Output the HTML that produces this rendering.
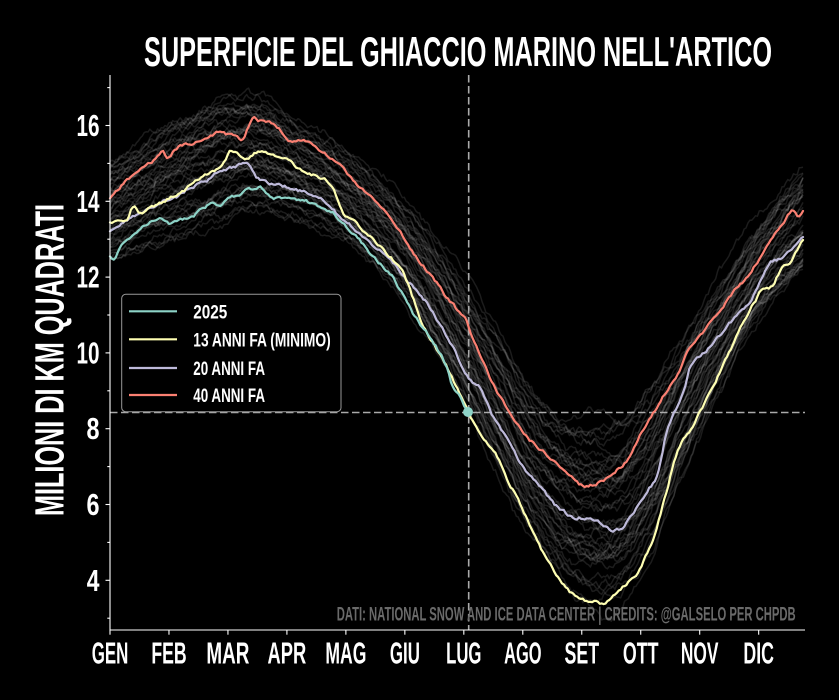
<!DOCTYPE html>
<html><head><meta charset="utf-8">
<style>
html,body{margin:0;padding:0;background:#000;width:839px;height:700px;overflow:hidden}
svg{display:block}
text{font-family:"Liberation Sans",sans-serif;font-weight:bold;fill:#fff}
</style></head><body>
<svg id="s" width="839" height="700" viewBox="0 0 839 700" xmlns="http://www.w3.org/2000/svg">
<rect width="839" height="700" fill="#000"/>
<g id="gray" fill="none" stroke="#fff" stroke-opacity="0.11" stroke-width="1.5" stroke-linejoin="round"></g>
<line x1="468.7" y1="75" x2="468.7" y2="630" stroke="#aaa" stroke-width="1.6" stroke-dasharray="7.5,3.5"/>
<line x1="110" y1="412.5" x2="805" y2="412.5" stroke="#aaa" stroke-width="1.6" stroke-dasharray="7.5,3.5"/>
<g id="main" fill="none" stroke-width="2.2" stroke-linejoin="round" stroke-linecap="round"></g>
<circle cx="468" cy="412" r="5" fill="#8dd3c7"/>

<line x1="110" y1="75" x2="110" y2="630.5" stroke="#fff" stroke-width="1.1"/>
<line x1="109.5" y1="630" x2="805" y2="630" stroke="#fff" stroke-width="1.1"/>
<g id="ticks" stroke="#fff" stroke-width="1.1"></g>
<g id="labels"></g>

<text x="144" y="66" font-size="42" textLength="628" lengthAdjust="spacingAndGlyphs">SUPERFICIE DEL GHIACCIO MARINO NELL'ARTICO</text>
<text transform="translate(63.3,360) rotate(-90)" x="0" y="0" text-anchor="middle" font-size="41" textLength="312" lengthAdjust="spacingAndGlyphs">MILIONI DI KM QUADRATI</text>

<text x="336.7" y="620.7" font-size="19.5" style="fill:#6a6a6a" textLength="459" lengthAdjust="spacingAndGlyphs">DATI: NATIONAL SNOW AND ICE DATA CENTER | CREDITS: @GALSELO PER CHPDB</text>

<rect x="121.7" y="294.3" width="219.3" height="117.4" rx="4" fill="#000" fill-opacity="0.85" stroke="#999" stroke-width="1"/>
<line x1="129" y1="311.3" x2="177" y2="311.3" stroke="#8dd3c7" stroke-width="2.2"/>
<line x1="129" y1="339.3" x2="177" y2="339.3" stroke="#ffffb3" stroke-width="2.2"/>
<line x1="129" y1="368" x2="177" y2="368" stroke="#bebada" stroke-width="2.2"/>
<line x1="129" y1="395" x2="177" y2="395" stroke="#fb8072" stroke-width="2.2"/>
<text x="193.3" y="318.3" font-size="19.3" textLength="34" lengthAdjust="spacingAndGlyphs">2025</text>
<text x="193.3" y="346.3" font-size="19.3" textLength="137.4" lengthAdjust="spacingAndGlyphs">13 ANNI FA (MINIMO)</text>
<text x="193.3" y="375" font-size="19.3" textLength="71.7" lengthAdjust="spacingAndGlyphs">20 ANNI FA</text>
<text x="193.3" y="402" font-size="19.3" textLength="71.7" lengthAdjust="spacingAndGlyphs">40 ANNI FA</text>
</svg>
<script>
(function(){
const NS="http://www.w3.org/2000/svg";
function R(seed){let s=seed>>>0;return function(){s=(Math.imul(s,1664525)+1013904223)>>>0;return s/4294967296;};}
function interp(P,x){
  const n=P.length;
  if(x<=P[0][0])return P[0][1];
  if(x>=P[n-1][0])return P[n-1][1];
  let i=0; while(i<n-2 && P[i+1][0]<x) i++;
  const p1=P[i],p2=P[i+1],p0=P[Math.max(0,i-1)],p3=P[Math.min(n-1,i+2)];
  const h=p2[0]-p1[0];
  const t=(x-p1[0])/h, t2=t*t, t3=t2*t;
  const m1=(p2[1]-p0[1])/(p2[0]-p0[0])*h;
  const m2=(p3[1]-p1[1])/(p3[0]-p1[0])*h;
  return (2*t3-3*t2+1)*p1[1]+(t3-2*t2+t)*m1+(-2*t3+3*t2)*p2[1]+(t3-t2)*m2;
}
function mk(tag,attrs,parent){const e=document.createElementNS(NS,tag);for(const k in attrs)e.setAttribute(k,attrs[k]);parent.appendChild(e);return e;}

const SAL=[[110,199],[118,190],[125,182],[135,174],[143,167],[155,160],[163,152],[167,157],[175,150],[183,145],[193,143],[203,140],[212,136],[220,132],[230,135],[237,137],[243,140],[248,128],[253,119],[260,121],[273,123],[280,130],[287,140],[298,140],[310,143],[320,150],[333,160],[347,173],[360,187],[375,201],[390,217],[402,235],[413,253],[425,268],[437,283],[447,298],[455,307],[462,316],[467,322],[470,333],[480,355],[490,377],[500,397],[510,413],[520,427],[527,437],[540,449],[550,457],[560,467],[572,477],[583,486],[592,485],[600,482],[610,476],[617,470],[627,460],[635,445],[643,430],[652,415],[660,402],[670,385],[680,370],[690,347],[705,330],[720,310],[733,293],[747,277],[760,258],[773,237],[783,223],[793,210],[798,215],[803,211]];
const YEL=[[110,223],[120,222],[127,220],[133,207],[140,213],[150,208],[160,203],[170,198],[180,193],[190,186],[200,178],[210,172],[220,168],[226,160],[230,152],[240,155],[247,158],[257,152],[268,154],[280,157],[290,162],[297,167],[305,171],[313,175],[327,180],[333,188],[337,197],[343,213],[352,220],[360,227],[370,237],[380,247],[390,257],[400,267],[407,282],[413,298],[420,318],[427,333],[437,350],[447,367],[458,390],[468,412],[475,425],[480,433],[487,443],[493,450],[500,462],[507,478],[513,490],[520,503],[530,525],[540,547],[550,564],[560,580],[570,592],[577,597],[585,600],[595,602],[603,604],[610,600],[620,590],[630,580],[637,573],[645,558],[653,540],[660,515],[667,490],[672,470],[677,453],[683,440],[690,430],[700,412],[707,398],[717,378],[727,357],[738,333],[750,310],[757,298],[763,288],[768,288],[773,285],[778,275],[783,267],[790,262],[793,257],[798,248],[803,240]];
const LAV=[[110,232],[118,226],[127,220],[135,216],[143,213],[152,207],[160,203],[168,200],[177,197],[185,191],[193,187],[200,183],[210,179],[217,173],[223,172],[233,167],[240,165],[247,163],[253,170],[257,177],[263,180],[270,183],[278,185],[287,187],[297,190],[307,193],[317,198],[327,203],[340,217],[350,225],[360,233],[373,245],[387,257],[397,268],[407,280],[417,292],[427,303],[437,320],[447,337],[458,357],[470,380],[480,387],[487,403],[493,417],[503,433],[513,450],[520,463],[527,473],[540,486],[553,503],[563,511],[573,517],[583,518],[593,520],[600,523],[610,530],[617,530],[623,527],[630,518],[640,503],[648,490],[657,477],[662,455],[667,430],[672,418],[677,407],[684,390],[690,367],[698,357],[707,350],[718,337],[730,323],[740,313],[750,303],[760,282],[770,263],[777,260],[783,257],[793,247],[803,237]];
const TEA=[[110,257],[115,258],[120,247],[125,242],[130,237],[137,232],[143,227],[150,222],[160,217],[165,220],[170,223],[180,220],[187,219],[193,217],[200,210],[207,206],[213,203],[220,206],[227,200],[233,197],[240,195],[247,190],[255,188],[260,187],[267,193],[273,197],[283,199],[293,200],[303,201],[313,203],[323,208],[333,213],[343,223],[350,230],[357,237],[365,247],[373,257],[380,264],[390,273],[395,281],[400,290],[406,300],[413,313],[420,324],[430,337],[438,350],[447,367],[452,385],[458,393],[463,403],[468,412]];
const UP=[[110,165],[140,148],[170,130],[200,114],[230,106],[260,108],[290,125],[330,150],[360,172],[400,208],[440,258],[470,305],[500,355],[530,405],[560,435],[590,443],[620,440],[650,405],[680,355],[720,290],[760,228],[803,172]];
const LP=[[110,255],[150,237],[200,217],[250,203],[290,208],[330,226],[360,246],[400,288],[440,350],[470,402],[500,462],[530,520],[560,560],[590,582],[620,578],[650,538],[680,468],[720,380],[760,312],[803,268]];

const g=document.getElementById('gray');
const N=44;
for(let i=0;i<N;i++){
  const r=R(1000+i*7919);
  const u0=-0.08+1.16*((i+r())/N);
  let s=(r()-0.5)*0.12, n=0, d="";
  const steps=Math.round((803-110)/1.9);
  for(let k=0;k<=steps;k++){
    const x=110+k*(693/steps);
    s=0.985*s+(r()-0.5)*0.05;
    n=0.5*n+(r()-0.5)*4;
    const U=interp(UP,x),L=interp(LP,x);
    const y=U+(u0+s)*(L-U)+n;
    d+=(k?"L":"M")+x.toFixed(1)+","+y.toFixed(1);
  }
  mk('path',{d:d},g);
}

function series(P,x0,x1,seed,amp){
  const r=R(seed); let n=0, d="";
  const steps=Math.max(1,Math.round((x1-x0)/1.9));
  for(let k=0;k<=steps;k++){
    const x=x0+k*(x1-x0)/steps;
    n=0.5*n+(r()-0.5)*amp;
    if(k===steps) n=0;
    const y=interp(P,x)+n;
    d+=(k?"L":"M")+x.toFixed(1)+","+y.toFixed(1);
  }
  return d;
}
const m=document.getElementById('main');
mk('path',{d:series(SAL,110,803,11,2.6),stroke:'#fb8072'},m);
mk('path',{d:series(LAV,110,803,23,2.6),stroke:'#bebada'},m);
mk('path',{d:series(YEL,110,803,37,2.6),stroke:'#ffffb3'},m);
mk('path',{d:series(TEA,110,468,51,2.6),stroke:'#8dd3c7'},m);

const t=document.getElementById('ticks');
const lab=document.getElementById('labels');
function yv(v){return 125.5+(16-v)*37.9;}
const yw={4:12.7,6:13,8:13,10:23,12:23,14:23,16:23};
for(let v=3;v<=17;v++){
  const y=yv(v);
  if(v%2===0){
    mk('line',{x1:105.5,y1:y,x2:110,y2:y},t);
    const tx=mk('text',{x:99.5,y:(y+10.5).toFixed(1),'text-anchor':'end','font-size':31,textLength:yw[v],lengthAdjust:'spacingAndGlyphs'},lab);
    tx.textContent=String(v);
  } else {
    mk('line',{x1:107.3,y1:y,x2:110,y2:y},t);
  }
}
const months=['GEN','FEB','MAR','APR','MAG','GIU','LUG','AGO','SET','OTT','NOV','DIC'];
const mw=[36.6,35.3,43,38.7,41,30,35.3,37.4,34.6,35.6,37.6,30.6];
for(let i=0;i<12;i++){
  const x=110+i*58.97;
  mk('line',{x1:x,y1:630,x2:x,y2:634.7},t);
  const tx=mk('text',{x:x.toFixed(1),y:663.3,'text-anchor':'middle','font-size':31,textLength:mw[i],lengthAdjust:'spacingAndGlyphs'},lab);
  tx.textContent=months[i];
}
})();
</script>
</body></html>
